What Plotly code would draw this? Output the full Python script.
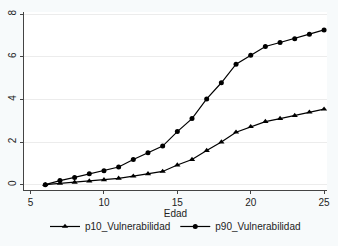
import plotly.graph_objects as go

edad = list(range(6, 26))
p10_vulnerabilidad = [0.0, 0.06, 0.11, 0.17, 0.23, 0.30, 0.40, 0.51, 0.62, 0.92, 1.18, 1.60, 2.00, 2.46,
                      2.72, 2.96, 3.10, 3.24, 3.40, 3.54]
p90_vulnerabilidad = [0.0, 0.19, 0.34, 0.51, 0.65, 0.83, 1.18, 1.50, 1.81, 2.49, 3.10, 4.02, 4.78, 5.65,
                      6.07, 6.48, 6.67, 6.85, 7.06, 7.26]
x_ticks = [5, 10, 15, 20, 25]
y_ticks = [0, 2, 4, 6, 8]

font = dict(family="Liberation Sans, Arial, sans-serif", size=10, color="#222")

fig = go.Figure()
fig.add_trace(go.Scatter(
    x=edad, y=p10_vulnerabilidad, name="p10_Vulnerabilidad", mode="lines+markers",
    line=dict(color="black", width=1.2),
    marker=dict(symbol="triangle-up", size=5.5, color="black")))
fig.add_trace(go.Scatter(
    x=edad, y=p90_vulnerabilidad, name="p90_Vulnerabilidad", mode="lines+markers",
    line=dict(color="black", width=1.2),
    marker=dict(symbol="circle", size=5, color="black")))

fig.update_layout(
    width=338, height=246,
    margin=dict(l=24, r=11, t=12, b=56, autoexpand=False),
    paper_bgcolor="#f7fafb", plot_bgcolor="white",
    font=font,
    showlegend=True,
    legend=dict(orientation="h", x=0.5, xanchor="center", y=-0.205, yanchor="middle",
                bgcolor="rgba(0,0,0,0)", font=dict(size=10), tracegroupgap=0),
    xaxis=dict(range=[4.55, 25.2], tickvals=x_ticks, ticks="outside", ticklen=3,
               tickcolor="#444", showline=True, linecolor="#444", linewidth=1,
               showgrid=False, zeroline=False, automargin=False,
               title=dict(text="Edad", standoff=0, font=dict(size=10))),
    yaxis=dict(range=[-0.25, 8.1], tickvals=y_ticks, ticks="outside", ticklen=3,
               tickcolor="#444", showline=True, linecolor="#444", linewidth=1,
               showgrid=True, gridcolor="#ececec", gridwidth=1, zeroline=False,
               tickangle=-90, automargin=False),
)

fig.write_html("out.html", config={"displayModeBar": False},
               post_script="document.body.style.margin='0';document.body.style.overflow='hidden';")
